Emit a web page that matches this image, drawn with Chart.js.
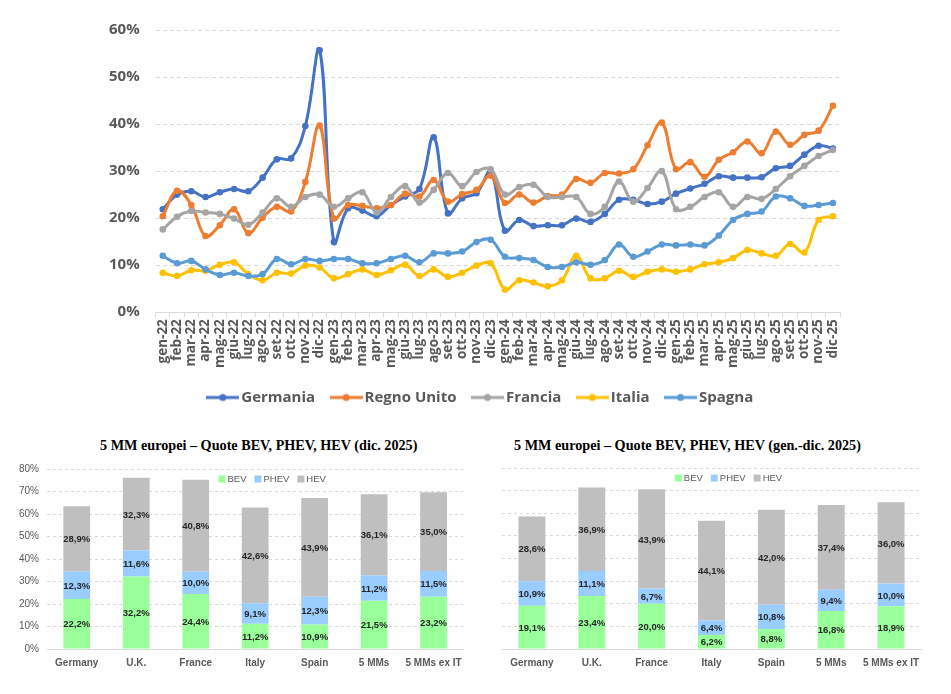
<!DOCTYPE html>
<html>
<head>
<meta charset="utf-8">
<script src="https://cdn.jsdelivr.net/npm/chart.js@4.4.1/dist/chart.umd.min.js"></script>
<style>
  body { margin: 0; background: #fff; width: 951px; height: 694px; position: relative; overflow: hidden; }
  .box { position: absolute; }
  .titolo { position: absolute; font-family: "Liberation Serif", serif; font-weight: bold; font-size: 14.2px; color: #000; white-space: nowrap; }
</style>
</head>
<body>
<div class="box" style="left:90px; top:5px; width:767px; height:410px;"><canvas id="linee"></canvas></div>
<div class="titolo" id="t1" style="left:100px; top:437px;">5 MM europei – Quote BEV, PHEV, HEV (dic. 2025)</div>
<div class="titolo" id="t2" style="left:514px; top:437px;">5 MM europei – Quote BEV, PHEV, HEV (gen.-dic. 2025)</div>
<div class="box" style="left:0px; top:455px; width:470px; height:228px;"><canvas id="barreDic"></canvas></div>
<div class="box" style="left:470px; top:455px; width:481px; height:228px;"><canvas id="barreAnno"></canvas></div>

<script>
// --- dati grafico linee (quota %, gen-22 ... dic-25)
const mesi = ['gen', 'feb', 'mar', 'apr', 'mag', 'giu', 'lug', 'ago', 'set', 'ott', 'nov', 'dic'];
const anni = ['22', '23', '24', '25'];

const germania = [21.9, 25.0, 25.7, 24.5, 25.5, 26.2, 25.7, 28.6, 32.5, 32.7, 39.6, 55.7,
    14.9, 22.1, 21.6, 20.4, 22.8, 24.6, 26.2, 37.2, 21.0, 24.2, 25.3, 29.8,
    17.3, 19.6, 18.3, 18.5, 18.5, 19.9, 19.2, 20.9, 23.9, 23.9, 23.0, 23.5,
    25.2, 26.3, 27.3, 28.9, 28.6, 28.6, 28.7, 30.6, 31.1, 33.5, 35.4, 34.8];
const regnoUnito = [20.4, 25.8, 22.8, 16.2, 18.5, 21.9, 16.8, 20.1, 22.4, 21.4, 27.7, 39.7,
    19.9, 22.8, 22.6, 22.1, 22.8, 25.2, 24.6, 28.1, 23.5, 25.1, 26.0, 29.0,
    23.2, 25.0, 23.3, 24.7, 25.0, 28.3, 27.5, 29.6, 29.5, 30.4, 35.5, 40.3,
    30.4, 31.9, 28.8, 32.4, 34.0, 36.3, 33.8, 38.4, 35.6, 37.7, 38.6, 43.9];
const francia = [17.6, 20.3, 21.5, 21.2, 20.9, 19.9, 18.6, 21.2, 24.2, 22.4, 24.5, 25.0,
    22.4, 24.2, 25.5, 21.2, 24.5, 26.8, 23.3, 26.0, 29.6, 26.8, 29.8, 30.4,
    25.0, 26.6, 27.1, 24.5, 24.5, 24.5, 20.9, 22.4, 27.8, 23.5, 26.4, 30.0,
    21.9, 22.4, 24.5, 25.5, 22.4, 24.5, 24.1, 26.2, 28.9, 31.1, 33.2, 34.5];
const italia = [8.4, 7.7, 8.9, 8.8, 10.1, 10.6, 8.1, 6.8, 8.4, 8.2, 9.9, 9.5,
    7.2, 8.1, 9.1, 7.9, 8.9, 10.1, 7.7, 9.1, 7.5, 8.4, 9.9, 10.4,
    4.8, 6.8, 6.3, 5.5, 6.8, 12.0, 7.2, 7.2, 8.8, 7.5, 8.6, 9.1,
    8.6, 9.1, 10.2, 10.6, 11.5, 13.2, 12.5, 12.0, 14.5, 12.7, 19.6, 20.4];
const spagna = [12.0, 10.4, 10.9, 9.1, 7.9, 8.4, 7.7, 8.1, 11.3, 10.2, 11.3, 10.9,
    11.3, 11.3, 10.4, 10.4, 11.3, 12.0, 10.6, 12.5, 12.5, 12.9, 14.9, 15.4,
    11.8, 11.5, 11.1, 9.6, 9.6, 10.6, 10.1, 11.1, 14.4, 11.8, 12.9, 14.4,
    14.2, 14.4, 14.2, 16.3, 19.6, 20.9, 21.4, 24.6, 24.2, 22.6, 22.8, 23.2];

// --- dati grafici a barre
const paesi = ['Germany', 'U.K.', 'France', 'Italy', 'Spain', '5 MMs', '5 MMs ex IT'];
const bevDic = [22.2, 32.2, 24.4, 11.2, 10.9, 21.5, 23.2];
const phevDic = [12.3, 11.6, 10.0, 9.1, 12.3, 11.2, 11.5];
const hevDic = [28.9, 32.3, 40.8, 42.6, 43.9, 36.1, 35.0];
const bevAnno = [19.1, 23.4, 20.0, 6.2, 8.8, 16.8, 18.9];
const phevAnno = [10.9, 11.1, 6.7, 6.4, 10.8, 9.4, 10.0];
const hevAnno = [28.6, 36.9, 43.9, 44.1, 42.0, 37.4, 36.0];

const grigioTesto = '#595959';
const grigioGriglia = '#d9d9d9';

let etichetteMesi = [];
anni.forEach(a => mesi.forEach(m => etichetteMesi.push(m + '-' + a)));

// marcatore legenda: linea con pallino
function marcatore(colore) {
    const c = document.createElement('canvas');
    c.width = 33; c.height = 10;
    const g = c.getContext('2d');
    g.strokeStyle = colore; g.lineWidth = 3;
    g.beginPath(); g.moveTo(0, 5); g.lineTo(33, 5); g.stroke();
    g.fillStyle = colore;
    g.beginPath(); g.arc(16.5, 5, 3.5, 0, Math.PI * 2); g.fill();
    return c;
}

function serie(label, data, colore, ordine) {
    return {
        label: label, data: data, borderColor: colore, backgroundColor: colore,
        borderWidth: 3, pointRadius: 3.3, pointBorderWidth: 0, pointBackgroundColor: colore,
        tension: 0.4, order: ordine
    };
}

// sposta la legenda un po' a destra come nell'originale
const spostaLegenda = {
    id: 'spostaLegenda',
    afterLayout(chart) {
        chart.legend.left += 16;
        chart.legend.right += 16;
    }
};

new Chart(document.getElementById('linee'), {
    type: 'line',
    data: {
        labels: etichetteMesi,
        datasets: [
            serie('Germania', germania, '#4472C4', 5),
            serie('Regno Unito', regnoUnito, '#ED7D31', 4),
            serie('Francia', francia, '#A5A5A5', 3),
            serie('Italia', italia, '#FFC000', 2),
            serie('Spagna', spagna, '#5B9BD5', 1)
        ]
    },
    plugins: [spostaLegenda],
    options: {
        responsive: true, maintainAspectRatio: false, animation: false,
        layout: { padding: { left: 3, right: 17, top: 10, bottom: 0 } },
        plugins: {
            tooltip: { enabled: false },
            legend: {
                position: 'bottom',
                labels: {
                    usePointStyle: true, pointStyleWidth: 22, padding: 20,
                    color: grigioTesto,
                    font: { family: 'Open Sans', weight: 'bold', size: 15 },
                    generateLabels: chart => chart.data.datasets.map((ds, i) => ({
                        text: ds.label, pointStyle: marcatore(ds.borderColor),
                        fillStyle: ds.borderColor, strokeStyle: ds.borderColor,
                        lineWidth: 0, fontColor: grigioTesto, datasetIndex: i, hidden: false
                    }))
                }
            }
        },
        scales: {
            x: {
                offset: true,
                grid: { drawOnChartArea: false, drawTicks: true, tickLength: 5, offset: true, color: grigioGriglia },
                border: { color: grigioGriglia },
                ticks: {
                    autoSkip: false, maxRotation: 90, minRotation: 90, padding: 2,
                    color: grigioTesto, font: { family: 'Open Sans', weight: 'bold', size: 13.5 }
                }
            },
            y: {
                min: 0, max: 60,
                grid: { color: grigioGriglia, drawTicks: false },
                border: { display: false, dash: [4, 3] },
                ticks: {
                    stepSize: 10, padding: 16, color: grigioTesto,
                    font: { family: 'Open Sans', weight: 'bold', size: 15 },
                    callback: v => v + '%'
                }
            }
        }
    }
});

// etichette dentro le barre
const etichetteBarre = {
    id: 'etichetteBarre',
    afterDatasetsDraw(chart) {
        const ctx = chart.ctx;
        ctx.save();
        ctx.font = 'bold 9.5px "Liberation Sans"';
        ctx.fillStyle = '#262626';
        ctx.textAlign = 'center';
        ctx.textBaseline = 'middle';
        chart.data.datasets.forEach((ds, i) => {
            chart.getDatasetMeta(i).data.forEach((bar, j) => {
                const p = bar.getProps(['x', 'y', 'base'], true);
                ctx.fillText(ds.data[j].toFixed(1).replace('.', ',') + '%', p.x, (p.y + p.base) / 2 + 1);
            });
        });
        ctx.restore();
    }
};

// legenda dentro l'area del grafico, in alto
const legendaInterna = {
    id: 'legendaInterna',
    afterDraw(chart) {
        const ctx = chart.ctx;
        const area = chart.chartArea;
        const box = 7, gap = 2, spazio = 8;
        ctx.save();
        ctx.font = '9.5px "Liberation Sans"';
        ctx.textBaseline = 'middle';
        ctx.textAlign = 'left';
        const larghezze = chart.data.datasets.map(ds => box + gap + ctx.measureText(ds.label).width);
        const totale = larghezze.reduce((a, b) => a + b, 0) + spazio * (larghezze.length - 1);
        let x = (area.left + area.right) / 2 + 17 - totale / 2;
        const y = area.top + 10;
        chart.data.datasets.forEach((ds, i) => {
            ctx.fillStyle = ds.backgroundColor;
            ctx.fillRect(x, y - box / 2, box, box);
            ctx.fillStyle = grigioTesto;
            ctx.fillText(ds.label, x + box + gap, y);
            x += larghezze[i] + spazio;
        });
        ctx.restore();
    }
};

function graficoBarre(id, bev, phev, hev, conAsse, padding) {
    new Chart(document.getElementById(id), {
        type: 'bar',
        data: {
            labels: paesi,
            datasets: [
                { label: 'BEV', data: bev, backgroundColor: '#99FF99' },
                { label: 'PHEV', data: phev, backgroundColor: '#99CCFF' },
                { label: 'HEV', data: hev, backgroundColor: '#BFBFBF' }
            ]
        },
        plugins: [etichetteBarre, legendaInterna],
        options: {
            responsive: true, maintainAspectRatio: false, animation: false,
            categoryPercentage: 1, barPercentage: 0.45,
            layout: { padding: padding },
            plugins: {
                tooltip: { enabled: false },
                legend: { display: false }
            },
            scales: {
                x: {
                    stacked: true,
                    grid: { display: false, drawTicks: false },
                    border: { color: grigioGriglia },
                    ticks: {
                        autoSkip: false, maxRotation: 0, minRotation: 0, padding: 8, color: grigioTesto,
                        font: { family: 'Liberation Sans', weight: 'bold', size: 10 }
                    }
                },
                y: {
                    stacked: true, min: 0, max: 80,
                    grid: { color: grigioGriglia, drawTicks: false },
                    border: { display: false, dash: [3, 3] },
                    ticks: {
                        display: conAsse, stepSize: 10, padding: 8, color: grigioTesto,
                        font: { family: 'Liberation Sans', size: 10 },
                        callback: v => v + '%'
                    }
                }
            }
        }
    });
}

graficoBarre('barreDic', bevDic, phevDic, hevDic, true, { left: 11, right: 5, top: 2, bottom: 6 });
graficoBarre('barreAnno', bevAnno, phevAnno, hevAnno, false, { left: 32, right: 30, top: 13, bottom: 6 });
</script>
</body>
</html>
